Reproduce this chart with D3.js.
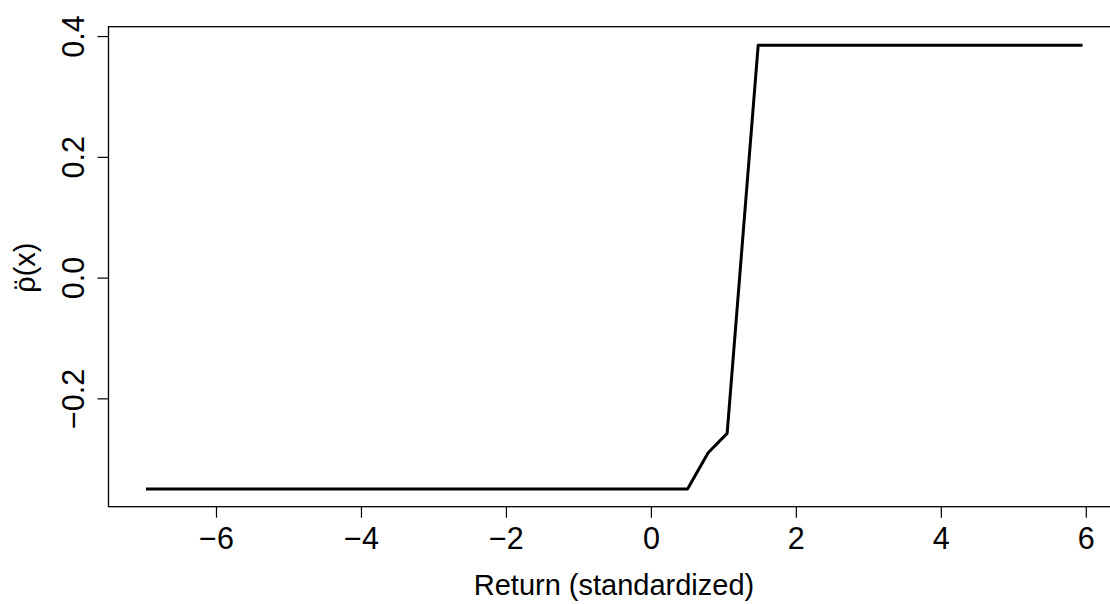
<!DOCTYPE html>
<html>
<head>
<meta charset="utf-8">
<script src="https://cdn.jsdelivr.net/npm/d3@7"></script>
<style>
  html, body { margin: 0; padding: 0; background: #fff; }
  svg { display: block; font-family: "Liberation Sans", Arial, Helvetica, sans-serif; }
</style>
</head>
<body>
<svg id="chart" width="1110" height="604"></svg>
<script>
// Data
const xValues = [-6.966, 0.506, 0.790, 1.052, 1.480, 5.955];
const yValues = [-0.350, -0.350, -0.290, -0.258, 0.3846, 0.3846];
const xTicks = [-6, -4, -2, 0, 2, 4, 6];
const yTicks = [-0.2, 0.0, 0.2, 0.4];
const xLabel = "Return (standardized)";

const plot = { left: 108.5, right: 1120, top: 26.7, bottom: 506.7 };
const tickFont = 30.5;
const labelFont = 29;

const svg = d3.select("#chart");

const x = d3.scaleLinear().domain([-7.483, 6.472]).range([plot.left, plot.right]);
const y = d3.scaleLinear().domain([-0.3794, 0.4155]).range([plot.bottom, plot.top]);

const fmtX = d3.format("d");
const fmtY = d3.format(".1f");

// Box
svg.append("rect")
  .attr("x", plot.left).attr("y", plot.top)
  .attr("width", plot.right - plot.left).attr("height", plot.bottom - plot.top)
  .attr("fill", "none").attr("stroke", "#000").attr("stroke-width", 1.3);

// X axis
const xAxis = d3.axisBottom(x).tickValues(xTicks).tickFormat(fmtX).tickSize(11).tickPadding(0);
const gx = svg.append("g").attr("transform", `translate(0,${plot.bottom})`).call(xAxis);
gx.select(".domain").remove();
gx.selectAll(".tick line").attr("stroke", "#000").attr("stroke-width", 1.2);
gx.selectAll(".tick text")
  .attr("font-size", tickFont).attr("font-family", "Liberation Sans, Arial, sans-serif")
  .attr("fill", "#000").attr("dy", null).attr("y", 549 - plot.bottom);

// Y axis
const yAxis = d3.axisLeft(y).tickValues(yTicks).tickFormat(fmtY).tickSize(11).tickPadding(0);
const gy = svg.append("g").attr("transform", `translate(${plot.left},0)`).call(yAxis);
gy.select(".domain").remove();
gy.selectAll(".tick line").attr("stroke", "#000").attr("stroke-width", 1.2);
gy.selectAll(".tick text")
  .attr("font-size", tickFont).attr("font-family", "Liberation Sans, Arial, sans-serif")
  .attr("fill", "#000")
  .attr("x", null).attr("dy", null)
  .attr("text-anchor", "middle")
  .attr("transform", `translate(${84 - plot.left},0) rotate(-90)`);

// Line
const line = d3.line().x((d, i) => x(xValues[i])).y(d => y(d));
svg.append("path")
  .datum(yValues)
  .attr("d", line)
  .attr("fill", "none").attr("stroke", "#000").attr("stroke-width", 3)
  .attr("stroke-linejoin", "round").attr("stroke-linecap", "butt");

// X label
svg.append("text")
  .attr("x", 614).attr("y", 595)
  .attr("text-anchor", "middle").attr("font-size", labelFont).attr("fill", "#000")
  .text(xLabel);

// Y label: rho with double dot above, then (x)
const yl = svg.append("text")
  .attr("transform", `translate(35,${(plot.top + plot.bottom) / 2 + 1}) rotate(-90)`)
  .attr("text-anchor", "middle").attr("font-size", labelFont).attr("fill", "#000");
yl.append("tspan").text("\u03C1");
yl.append("tspan").attr("dx", "-0.4555em").text("\u00A8");
yl.append("tspan").attr("dx", "0.1225em").text("(x)");
</script>
</body>
</html>
